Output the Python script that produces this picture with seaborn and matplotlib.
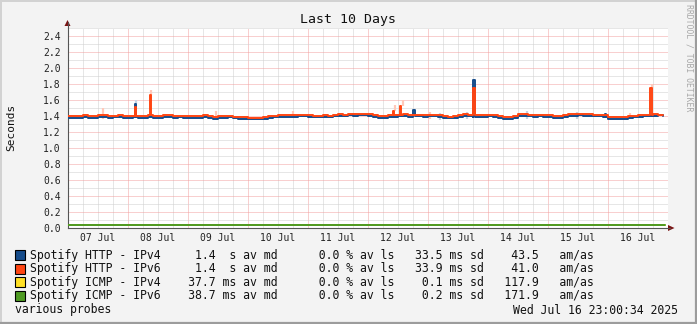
import numpy as np
import pandas as pd
import matplotlib
matplotlib.use("Agg")
import matplotlib.pyplot as plt
import matplotlib.dates as mdates
from matplotlib.patches import Rectangle, Polygon
from matplotlib.lines import Line2D
from matplotlib.ticker import FuncFormatter, MultipleLocator, NullFormatter
import seaborn as sns

# ---------------- data ----------------
START = "2025-07-07 00:00"
END = "2025-07-17 00:00"
DATA_END = "2025-07-16 23:00"

# HTTP medians, one value every 2 hours (12 per day), Jul 7 .. Jul 16
http_v4 = [
    1.375, 1.370, 1.375, 1.380, 1.375, 1.375, 1.385, 1.385, 1.375, 1.380, 1.385, 1.375,
    1.375, 1.380, 1.375, 1.375, 1.380, 1.375, 1.375, 1.385, 1.385, 1.375, 1.380, 1.375,
    1.370, 1.375, 1.375, 1.380, 1.375, 1.365, 1.375, 1.375, 1.380, 1.370, 1.365, 1.365,
    1.355, 1.355, 1.360, 1.365, 1.375, 1.380, 1.385, 1.385, 1.390, 1.385, 1.395, 1.395,
    1.385, 1.385, 1.380, 1.385, 1.385, 1.395, 1.400, 1.395, 1.405, 1.400, 1.405, 1.405,
    1.395, 1.390, 1.375, 1.375, 1.380, 1.385, 1.395, 1.395, 1.390, 1.395, 1.395, 1.390,
    1.395, 1.395, 1.385, 1.375, 1.370, 1.375, 1.385, 1.395, 1.395, 1.390, 1.385, 1.390,
    1.395, 1.385, 1.375, 1.365, 1.365, 1.375, 1.395, 1.400, 1.395, 1.390, 1.395, 1.390,
    1.385, 1.375, 1.375, 1.385, 1.395, 1.400, 1.405, 1.400, 1.400, 1.400, 1.395, 1.390,
    1.365, 1.365, 1.360, 1.365, 1.375, 1.385, 1.390, 1.395, 1.395, 1.400, 1.405, 1.400,
]
http_v6 = [
    1.400, 1.395, 1.400, 1.405, 1.400, 1.400, 1.410, 1.405, 1.400, 1.400, 1.405, 1.400,
    1.400, 1.400, 1.395, 1.400, 1.405, 1.400, 1.400, 1.410, 1.405, 1.400, 1.400, 1.400,
    1.400, 1.395, 1.400, 1.405, 1.400, 1.390, 1.400, 1.400, 1.400, 1.390, 1.390, 1.385,
    1.375, 1.370, 1.375, 1.385, 1.395, 1.400, 1.405, 1.410, 1.410, 1.405, 1.415, 1.415,
    1.405, 1.400, 1.400, 1.405, 1.400, 1.410, 1.420, 1.415, 1.420, 1.420, 1.420, 1.425,
    1.420, 1.410, 1.400, 1.400, 1.405, 1.410, 1.410, 1.420, 1.410, 1.415, 1.410, 1.410,
    1.410, 1.415, 1.405, 1.395, 1.390, 1.395, 1.410, 1.420, 1.410, 1.410, 1.405, 1.410,
    1.415, 1.405, 1.395, 1.390, 1.390, 1.395, 1.420, 1.420, 1.415, 1.410, 1.410, 1.410,
    1.405, 1.400, 1.400, 1.410, 1.420, 1.420, 1.425, 1.420, 1.420, 1.415, 1.410, 1.410,
    1.390, 1.390, 1.380, 1.385, 1.395, 1.400, 1.410, 1.415, 1.410, 1.420, 1.415, 1.410,
]

# short-lived spikes in the medians (start time, value)
spike_v4_time = ["2025-07-08 02:50", "2025-07-12 18:15", "2025-07-13 18:15", "2025-07-15 22:55"]
spike_v4_value = [1.55, 1.47, 1.85, 1.42]
spike_v6_time = ["2025-07-08 02:50", "2025-07-08 08:50", "2025-07-12 10:00",
                 "2025-07-12 12:55", "2025-07-13 18:15", "2025-07-16 16:55"]
spike_v6_value = [1.51, 1.66, 1.46, 1.52, 1.75, 1.74]

# ICMP medians (seconds), one value per day plus the last sample
icmp_v4 = [0.0377, 0.0377, 0.0376, 0.0377, 0.0377, 0.0378, 0.0377, 0.0377, 0.0377, 0.0377, 0.0377]
icmp_v6 = [0.0387, 0.0387, 0.0387, 0.0386, 0.0387, 0.0387, 0.0388, 0.0387, 0.0387, 0.0387, 0.0387]

# smoke (spread of the individual pings)
smoke_v6_time = ["2025-07-07 14:10", "2025-07-08 09:20", "2025-07-09 11:25", "2025-07-10 18:00",
                 "2025-07-12 11:00", "2025-07-12 14:10", "2025-07-13 01:00", "2025-07-16 08:40",
                 "2025-07-16 17:30"]
smoke_v6_low = [1.36, 1.66, 1.40, 1.41, 1.46, 1.52, 1.36, 1.40, 1.74]
smoke_v6_high = [1.50, 1.72, 1.46, 1.46, 1.53, 1.60, 1.45, 1.44, 1.80]
smoke_v4_time = ["2025-07-08 03:20", "2025-07-13 05:00", "2025-07-13 15:50",
                 "2025-07-14 15:50", "2025-07-15 11:45"]
smoke_v4_low = [1.55, 1.35, 1.36, 1.36, 1.36]
smoke_v4_high = [1.60, 1.43, 1.45, 1.46, 1.45]

series_names = ["Spotify HTTP - IPv4", "Spotify HTTP - IPv6", "Spotify ICMP - IPv4", "Spotify ICMP - IPv6"]
series_colors = ["#164C8A", "#FF4512", "#FFE025", "#4E9A22"]
legend_median = ["1.4", "1.4", "37.7", "38.7"]
legend_unit = ["s", "s", "ms", "ms"]
legend_loss = ["0.0", "0.0", "0.0", "0.0"]
legend_sd = ["33.5", "33.9", "0.1", "0.2"]
legend_amas = ["43.5", "41.0", "117.9", "171.9"]

title = "Last 10 Days"
ylabel = "Seconds"
footer_left = "various probes"
footer_right = "Wed Jul 16 23:00:34 2025"
watermark = "RRDTOOL / TOBI OETIKER"

# ---------------- build tables ----------------
http_times = pd.date_range(START, periods=len(http_v4), freq="2h")
icmp_times = pd.date_range(START, "2025-07-16", freq="D").append(pd.DatetimeIndex([DATA_END]))


def with_spikes(times, values, sp_t, sp_v, width="30min"):
    base = pd.Series(values, index=times)
    rows = list(zip(times, values))
    for t, v in zip(pd.to_datetime(sp_t), sp_v):
        back = base[:t].iloc[-1]
        rows += [(t, v), (t + pd.Timedelta(width), back)]
    rows.sort(key=lambda r: r[0])
    return rows


frames = []
for name, vals, st, sv in [(series_names[0], http_v4, spike_v4_time, spike_v4_value),
                           (series_names[1], http_v6, spike_v6_time, spike_v6_value)]:
    r = with_spikes(http_times, vals, st, sv)
    frames.append(pd.DataFrame({"time": [a for a, _ in r], "seconds": [b for _, b in r], "series": name}))
for name, vals in [(series_names[2], icmp_v4), (series_names[3], icmp_v6)]:
    frames.append(pd.DataFrame({"time": icmp_times, "seconds": vals, "series": name}))
df = pd.concat(frames, ignore_index=True)

# ---------------- figure ----------------
W, H = 697, 324
sns.set_theme(style="white")
plt.rcParams["font.family"] = ["DejaVu Sans Mono", "DejaVu Sans"]
BG = "#F3F3F3"
fig = plt.figure(figsize=(W / 100, H / 100), dpi=100, facecolor=BG)


def fx(x):
    return x / W


def fy(y):
    return 1 - y / H


L, R, T, B = 67.5, 668.0, 27.5, 228.0
ax = fig.add_axes([fx(L), fy(B), (R - L) / W, (B - T) / H])
ax.set_facecolor("white")

# smoke
ax.vlines(pd.to_datetime(smoke_v6_time), smoke_v6_low, smoke_v6_high, color="#FFC9BA", lw=1.6, zorder=1.5)
ax.vlines(pd.to_datetime(smoke_v4_time), smoke_v4_low, smoke_v4_high, color="#C9D3E2", lw=1.6, zorder=1.5)

palette = dict(zip(series_names, series_colors))
sns.lineplot(data=df, x="time", y="seconds", hue="series", hue_order=series_names,
             palette=palette, estimator=None, sort=True, drawstyle="steps-post",
             lw=1.4, legend=False, ax=ax, zorder=3)

ax.set_xlim(pd.Timestamp(START), pd.Timestamp(END))
ax.set_ylim(0, 2.5)
ax.set_xlabel("")
ax.set_ylabel("")

ax.xaxis.set_major_locator(mdates.DayLocator())
ax.xaxis.set_minor_locator(mdates.HourLocator(byhour=[6, 12, 18]))
ax.xaxis.set_major_formatter(NullFormatter())


def day_label(x, pos):
    d = mdates.num2date(x)
    return d.strftime("%d %b") if d.hour == 12 else ""


ax.xaxis.set_minor_formatter(FuncFormatter(day_label))
ax.yaxis.set_major_locator(MultipleLocator(0.2))
ax.yaxis.set_minor_locator(MultipleLocator(0.1))
ax.yaxis.set_major_formatter(FuncFormatter(lambda v, p: f"{v:.1f}"))

RED = "#F2A0A0"
GREY = "#CFCFCF"
ax.set_axisbelow(True)
ax.grid(which="minor", color=GREY, ls=(0, (1, 1)), lw=0.72)
ax.grid(which="major", color=RED, ls=(0, (1, 1)), lw=0.72)

ax.tick_params(axis="x", which="major", length=2, width=0.72, color="#E07070", direction="out", pad=2)
ax.tick_params(axis="x", which="minor", length=0, pad=3.6, labelsize=7, labelcolor="#222222")
ax.tick_params(axis="y", which="major", length=0, pad=5.0, labelsize=7, labelcolor="#222222")
ax.tick_params(axis="y", which="minor", length=0)

for s in ["top", "right"]:
    ax.spines[s].set_visible(False)
for s in ["left", "bottom"]:
    ax.spines[s].set_color("#555555")
    ax.spines[s].set_linewidth(0.8)

# axis extensions and arrows
ARROW = "#7A1414"
fig.add_artist(Line2D([fx(L), fx(L)], [fy(T), fy(22)], color="#555555", lw=0.8))
fig.add_artist(Line2D([fx(R), fx(670)], [fy(B), fy(B)], color="#555555", lw=0.8))
fig.add_artist(Polygon([(fx(L - 3), fy(26)), (fx(L + 3), fy(26)), (fx(L), fy(20))],
                       closed=True, transform=fig.transFigure, color=ARROW, lw=0))
fig.add_artist(Polygon([(fx(668), fy(B - 3)), (fx(668), fy(B + 3)), (fx(674.5), fy(B))],
                       closed=True, transform=fig.transFigure, color=ARROW, lw=0))

# texts
fig.text(fx(348.5), fy(19), title, ha="center", va="center", fontsize=9.5, color="#111111")
fig.text(fx(11), fy(127.5), ylabel, ha="center", va="center", rotation=90, fontsize=8, color="#111111")
fig.text(fx(689), fy(4), watermark, ha="center", va="top", rotation=270, fontsize=5.9, color="#A8A8A8")

row_y = [255.0, 268.7, 282.3, 296.0]
for i in range(4):
    fig.add_artist(Rectangle((fx(15), fy(row_y[i] + 5)), 10 / W, 10 / H, transform=fig.transFigure,
                             facecolor=series_colors[i], edgecolor="black", lw=0.8))
    line = (f"{series_names[i]:<19}{legend_median[i]:>8} {legend_unit[i]:>2} av md"
            f"{legend_loss[i]:>9} % av ls{legend_sd[i]:>7} ms sd{legend_amas[i]:>8}   am/as")
    fig.text(fx(30), fy(row_y[i]), line, ha="left", va="center", fontsize=8.3, color="#111111")

fig.text(fx(15), fy(310), footer_left, ha="left", va="center", fontsize=8.3, color="#111111")
fig.text(fx(513), fy(310), footer_right, ha="left", va="center", fontsize=8.3, color="#111111")

# 3-D style border
fig.add_artist(Line2D([0, 1], [fy(0.5), fy(0.5)], color="#D2D2D2", lw=1.4))
fig.add_artist(Line2D([fx(0.5), fx(0.5)], [0, 1], color="#D2D2D2", lw=1.4))
fig.add_artist(Line2D([0, 1], [fy(H - 1), fy(H - 1)], color="#9C9C9C", lw=1.6))
fig.add_artist(Line2D([fx(W - 1), fx(W - 1)], [0, 1], color="#9C9C9C", lw=1.6))

fig.savefig("out.png", dpi=100, facecolor=BG)
